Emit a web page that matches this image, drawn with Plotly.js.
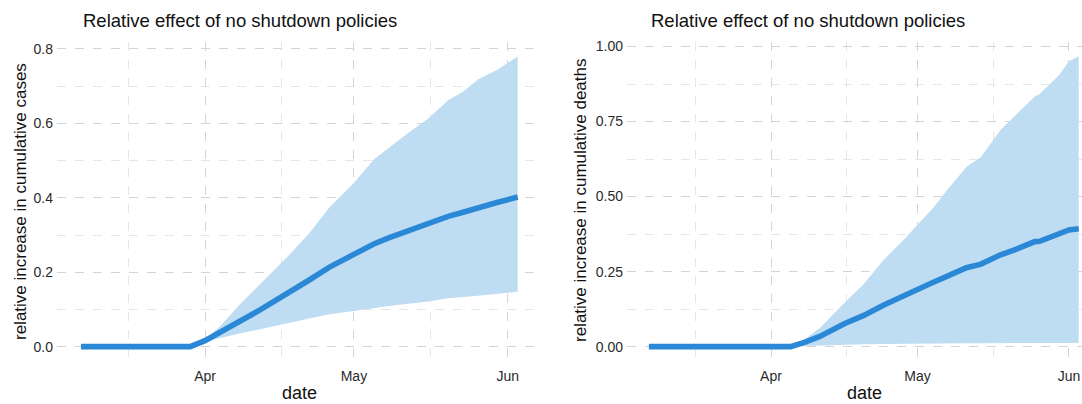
<!DOCTYPE html>
<html>
<head>
<meta charset="utf-8">
<script src="https://cdn.plot.ly/plotly-3.0.1.min.js"></script>
<style>html,body{margin:0;padding:0;background:#fff;}#chart{width:1082px;height:404px;}</style>
</head>
<body>
<div id="chart"></div>
<script>
// ---- data ----
const casesDates = ['2020-03-07','2020-03-29','2020-04-01','2020-04-04','2020-04-08','2020-04-12','2020-04-15','2020-04-18','2020-04-22','2020-04-26','2020-05-01','2020-05-05','2020-05-08','2020-05-12','2020-05-16','2020-05-20','2020-05-23','2020-05-26','2020-05-30','2020-06-03'];
const casesMid = [0,0,0.016,0.040,0.068,0.098,0.121,0.145,0.179,0.213,0.247,0.276,0.292,0.312,0.331,0.350,0.361,0.374,0.388,0.402];
const casesHi  = [0,0,0.020,0.054,0.113,0.166,0.205,0.247,0.305,0.373,0.440,0.503,0.534,0.575,0.613,0.662,0.685,0.718,0.745,0.780];
const casesLo  = [0,0,0.012,0.023,0.035,0.047,0.055,0.064,0.076,0.087,0.096,0.104,0.109,0.115,0.121,0.130,0.133,0.137,0.142,0.148];

const deathsDates = ['2020-03-07','2020-04-05','2020-04-08','2020-04-11','2020-04-16','2020-04-20','2020-04-24','2020-04-28','2020-05-01','2020-05-04','2020-05-07','2020-05-11','2020-05-14','2020-05-18','2020-05-21','2020-05-25','2020-05-26','2020-05-30','2020-06-01','2020-06-03'];
const deathsMid = [0,0,0.015,0.034,0.076,0.104,0.138,0.170,0.189,0.213,0.234,0.263,0.275,0.306,0.323,0.350,0.351,0.375,0.389,0.393];
const deathsHi  = [0,0,0.025,0.062,0.145,0.209,0.288,0.353,0.406,0.459,0.520,0.599,0.632,0.723,0.770,0.834,0.842,0.905,0.951,0.968];
const deathsLo  = [0,0,0.002,0.004,0.007,0.008,0.009,0.010,0.010,0.010,0.011,0.011,0.011,0.012,0.012,0.012,0.012,0.012,0.012,0.012];

const chartTitle = 'Relative effect of no shutdown policies';
const casesYTitle = 'relative increase in cumulative cases';
const deathsYTitle = 'relative increase in cumulative deaths';
const xTitle = 'date';

// ---- styling ----
const LINE = '#2B88D6';
const RIBBON = '#BEDDF2';
const W = 1082, H = 404;
const FONT = 'Liberation Sans, Arial, sans-serif';

function ribbon(x, lo, hi, xa, ya) {
  return [
    {x: x, y: lo, xaxis: xa, yaxis: ya, mode: 'lines', line: {width: 0, color: RIBBON}, hoverinfo: 'skip', showlegend: false},
    {x: x, y: hi, xaxis: xa, yaxis: ya, mode: 'lines', line: {width: 0, color: RIBBON}, fill: 'tonexty', fillcolor: RIBBON, hoverinfo: 'skip', showlegend: false}
  ];
}
function mid(x, y, xa, ya) {
  return {x: x, y: y, xaxis: xa, yaxis: ya, mode: 'lines', line: {width: 5.6, color: LINE}, showlegend: false};
}

const data = [
  ...ribbon(casesDates, casesLo, casesHi, 'x', 'y'),
  mid(casesDates, casesMid, 'x', 'y'),
  ...ribbon(deathsDates, deathsLo, deathsHi, 'x2', 'y2'),
  mid(deathsDates, deathsMid, 'x2', 'y2')
];

const yDom = [(H - 361) / H, (H - 42) / H];
function xAxis(dom, range) {
  return {
    domain: dom, range: range, type: 'date',
    tickformat: '%b', dtick: 'M1', tick0: '2020-03-01',
    showgrid: true, gridcolor: '#d4d4d4', griddash: 'dash', gridwidth: 1,
    minor: {dtick: 'M1', tick0: '2020-03-16 12:00', showgrid: true, gridcolor: '#e6e6e6', griddash: 'dash', gridwidth: 1},
    zeroline: false, showline: false, ticks: '',
    tickfont: {family: FONT, size: 14, color: '#2a2a2a'},
    ticklabelstandoff: 5, fixedrange: true
  };
}
function yAxis(range, dtick, minorDtick, fmt, anchor) {
  return {
    domain: yDom, range: range, anchor: anchor,
    dtick: dtick, tick0: 0, tickformat: fmt,
    showgrid: true, gridcolor: '#d4d4d4', griddash: 'dash', gridwidth: 1,
    minor: {dtick: minorDtick, tick0: 0, showgrid: true, gridcolor: '#e6e6e6', griddash: 'dash', gridwidth: 1},
    zeroline: false, showline: false, ticks: '',
    tickfont: {family: FONT, size: 14, color: '#2a2a2a'},
    ticklabelstandoff: 3, fixedrange: true
  };
}

const layout = {
  width: W, height: H,
  margin: {l: 0, r: 0, t: 0, b: 0},
  paper_bgcolor: '#fff', plot_bgcolor: '#fff',
  showlegend: false,
  xaxis: Object.assign(xAxis([57 / W, 540 / W], ['2020-03-02 04:00', '2020-06-07 12:00']), {anchor: 'y'}),
  yaxis: yAxis([-0.0387, 0.8188], 0.2, 0.1, '.1f', 'x'),
  xaxis2: Object.assign(xAxis([627 / W, 1], ['2020-03-02 12:30', '2020-06-03 16:00']), {anchor: 'y2'}),
  yaxis2: yAxis([-0.048, 1.0153], 0.25, 0.125, '.2f', 'x2'),
  annotations: [
    {text: chartTitle, xref: 'paper', yref: 'paper', x: 81 / W, y: 1 - 20 / H, xanchor: 'left', yanchor: 'middle', showarrow: false, font: {family: FONT, size: 18.5, color: '#111'}},
    {text: chartTitle, xref: 'paper', yref: 'paper', x: 649 / W, y: 1 - 20 / H, xanchor: 'left', yanchor: 'middle', showarrow: false, font: {family: FONT, size: 18.5, color: '#111'}},
    {text: casesYTitle, xref: 'paper', yref: 'paper', x: 20 / W, y: 1 - 202 / H, textangle: -90, xanchor: 'center', yanchor: 'middle', showarrow: false, font: {family: FONT, size: 17, color: '#111'}},
    {text: deathsYTitle, xref: 'paper', yref: 'paper', x: 580 / W, y: 1 - 201 / H, textangle: -90, xanchor: 'center', yanchor: 'middle', showarrow: false, font: {family: FONT, size: 17, color: '#111'}},
    {text: xTitle, xref: 'paper', yref: 'paper', x: 299 / W, y: 1 - 393 / H, xanchor: 'center', yanchor: 'middle', showarrow: false, font: {family: FONT, size: 18, color: '#111'}},
    {text: xTitle, xref: 'paper', yref: 'paper', x: 864 / W, y: 1 - 393 / H, xanchor: 'center', yanchor: 'middle', showarrow: false, font: {family: FONT, size: 18, color: '#111'}}
  ]
};

Plotly.newPlot('chart', data, layout, {staticPlot: true, displayModeBar: false});
</script>
</body>
</html>
